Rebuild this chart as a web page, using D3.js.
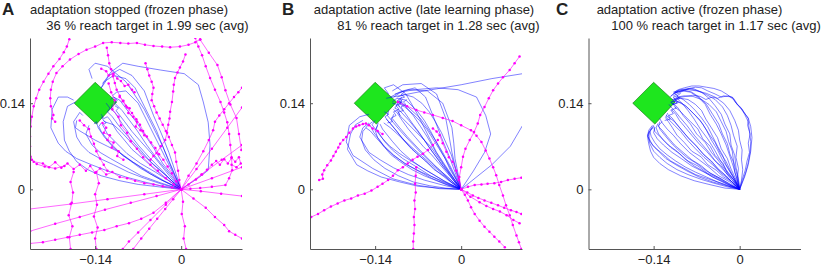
<!DOCTYPE html>
<html>
<head>
<meta charset="utf-8">
<script src="https://cdn.jsdelivr.net/npm/d3@7"></script>
<style>
  body { margin: 0; background: #fff; }
  svg text { font-family: "Liberation Sans", Arial, sans-serif; fill: #222; }
</style>
</head>
<body>
<div id="chart"></div>
<script>
// DATA (hand position in mm, start at 0,0)
const xTicks = [-140, 0];
const yTicks = [0, 140];
const panelLetters = ["A", "B", "C"];
const titles = ["adaptation stopped (frozen phase)", "adaptation active (late learning phase)", "adaptation active (frozen phase)"];
const subtitles = ["36 % reach target in 1.99 sec (avg)", "81 % reach target in 1.28 sec (avg)", "100 % reach target in 1.17 sec (avg)"];
const target = [[-140, 174], [-105, 142], [-138, 106], [-174, 140]];

// panel A: reaching (blue) and wandering (magenta) trajectories
const reachA = [
  [[0,0],[-20,14],[-40,30],[-58,46],[-80,65],[-94,82],[-105,95],[-115,112],[-120,118],[-126,115],[-130,122]],
  [[0,0],[-18,16],[-35,35],[-52,52],[-70,72],[-84,90],[-95,105],[-108,125],[-114,130],[-112,138]],
  [[0,0],[-14,22],[-30,42],[-44,66],[-60,90],[-72,108],[-85,125],[-100,145],[-110,150],[-115,146]],
  [[0,0],[-26,12],[-50,25],[-72,40],[-95,55],[-112,70],[-125,85],[-135,100],[-138,110],[-142,106]],
  [[0,0],[-30,8],[-60,18],[-86,28],[-110,40],[-132,50],[-150,60],[-162,72],[-170,85],[-175,110],[-165,125],[-160,120]],
  [[0,0],[-12,24],[-25,50],[-38,76],[-50,100],[-60,120],[-70,140],[-90,160],[-105,158],[-112,152]],
  [[0,0],[-36,4],[-70,8],[-100,14],[-130,22],[-152,32],[-170,45],[-182,62],[-190,80],[-192,110],[-185,135],[-172,142]],
  [[0,0],[-22,20],[-45,40],[-66,60],[-85,80],[-98,94],[-110,105],[-125,110],[-130,118]],
  [[0,0],[-18,24],[-38,48],[-56,72],[-72,96],[-84,112],[-96,128],[-108,140],[-104,145],[-110,150]],
  [[0,0],[30,20],[44,31],[47,72],[44,109],[36,142],[28,170],[5,188],[-34,194],[-70,200],[-95,205],[-115,190],[-125,172],[-130,165]],
  [[0,0],[-28,14],[-55,30],[-78,44],[-100,60],[-120,70],[-140,80],[-165,95],[-172,100],[-170,112]],
  [[0,0],[-10,22],[-20,45],[-30,70],[-40,95],[-50,115],[-60,135],[-75,165],[-90,180],[-110,185],[-125,175],[-130,165]],
  [[0,0],[-20,14],[-42,28],[-66,42],[-88,58],[-104,74],[-120,90],[-128,105],[-122,108],[-126,112]],
  [[0,0],[-30,5],[-60,12],[-90,20],[-120,30],[-146,40],[-170,50],[-188,62],[-200,75],[-212,100],[-210,130],[-200,150],[-185,150],[-175,145]],
  [[0,0],[-16,18],[-32,38],[-48,58],[-66,78],[-80,94],[-92,110],[-106,128],[-102,132],[-108,136]],
  [[0,0],[-10,30],[-20,60],[-32,90],[-45,120],[-60,160],[-80,185],[-100,195],[-118,185],[-128,172]],
  [[0,0],[-24,22],[-50,45],[-70,68],[-90,90],[-102,104],[-112,118],[-120,126],[-116,132],[-122,140]],
  [[0,0],[-32,10],[-65,22],[-90,36],[-115,50],[-132,60],[-145,72],[-155,90],[-150,104]],
  [[0,0],[-15,35],[-30,70],[-45,100],[-60,130],[-90,175],[-120,200],[-140,205],[-150,195],[-145,180]],
  [[0,0],[-34,16],[-66,34],[-96,56],[-118,78],[-130,94],[-134,102],[-130,108]]
];
const wanderA = [
  [[-190,38],[-205,34],[-222,37],[-235,41],[-243,48],[-245,53],[-246,70],[-246,86],[-245,102],[-243,118],[-240,135],[-236,148],[-231,162],[-224,175],[-216,188],[-208,200],[-198,212],[-191,223],[-186,232],[-182,244]],
  [[-205,110],[-210,115],[-208,121],[-212,135],[-213,148],[-212,162],[-209,175],[-203,189],[-193,200],[-181,211],[-167,220],[-154,227],[-140,232],[-127,238],[-113,239],[-99,238],[-86,237],[-72,238],[-59,235],[-45,233],[-31,232],[-18,231],[-2,232],[12,235],[23,239],[31,244]],
  [[-121,230],[-119,218],[-117,205],[-114,195],[-111,184],[-108,173],[-105,162],[-100,152],[-95,143],[-88,133],[-80,124],[-73,114],[-67,105],[-62,95],[-56,86],[-49,76],[-42,67],[-36,57],[-29,48],[-22,37],[-15,26],[-8,13],[0,0]],
  [[7,219],[3,208],[-2,198],[-6,190],[-10,181],[-12,170],[-13,159],[-15,142],[-18,126],[-19,115],[-21,105],[-23,92],[-26,80],[-33,70],[-40,59],[-45,54],[-50,48]],
  [[23,246],[28,232],[34,218],[40,200],[47,181],[55,162],[64,142],[70,125],[75,109],[78,90],[80,72],[82,52],[83,31],[78,18],[72,7],[50,4],[31,2],[15,1],[0,0]],
  [[31,243],[45,222],[59,202],[66,182],[72,161],[80,138],[90,116],[94,90],[98,64]],
  [[0,0],[25,33],[50,66],[75,100],[99,133]],
  [[0,0],[33,24],[66,48],[99,72]],
  [[0,0],[50,18],[99,36]],
  [[0,0],[32,-3],[65,-7],[99,-11]],
  [[0,0],[20,-15],[40,-30],[55,-45],[70,-58],[78,-68],[88,-74],[99,-80]],
  [[0,0],[3,-20],[1,-40],[6,-60],[4,-80],[8,-97]],
  [[0,0],[-40,-11],[-82,-22],[-124,-33],[-165,-45],[-205,-56],[-246,-68]],
  [[0,0],[-60,-8],[-120,-16],[-180,-24],[-246,-32]],
  [[0,0],[-25,-25],[-50,-50],[-70,-70],[-85,-85],[-95,-97]],
  [[-180,-97],[-182,-78],[-177,-60],[-183,-42],[-178,-22],[-176,-5],[-180,12],[-175,28]],
  [[-138,-97],[-140,-80],[-136,-62],[-142,-44],[-137,-25],[-140,-8],[-134,10],[-138,28]],
  [[-240,45],[-225,42],[-215,36],[-205,44],[-195,35],[-185,42],[-175,33],[-165,40],[-155,30],[-148,38],[-140,27],[-132,34],[-122,24],[-112,28],[-100,20],[-88,18],[-75,14],[-60,10],[-45,8],[-30,5],[-15,3],[0,0]],
  [[0,0],[12,8],[24,16],[34,24],[42,32],[50,40],[57,46],[63,40],[70,49],[76,42],[82,51],[88,45],[94,52],[97,42],[90,36],[82,40]],
  [[-118,172],[-114,158],[-108,145],[-112,130],[-102,118],[-98,104],[-88,92],[-82,78],[-72,66],[-62,52],[-50,40],[-38,30],[-25,18],[-12,8],[0,0]],
  [[-165,112],[-158,104],[-150,98],[-147,86],[-142,74],[-138,62],[-132,50],[-126,40],[-120,30]],
  [[-58,205],[-55,195],[-52,185],[-48,175],[-45,165],[-47,155],[-48,145],[-44,135],[-40,125],[-35,115],[-30,105],[-25,95],[-20,85],[-15,72],[-10,60],[-8,45],[-5,30],[-3,15],[0,0]],
  [[0,0],[12,22],[25,42],[36,62],[45,80],[52,96],[55,110],[62,120],[70,130],[78,140],[86,150],[93,158],[99,165]],
  [[-246,-88],[-225,-86],[-205,-82],[-185,-78],[-165,-74],[-145,-70],[-125,-66],[-105,-60],[-85,-55],[-65,-48],[-45,-38],[-25,-22],[0,0]],
  [[-78,-97],[-65,-80],[-52,-64],[-39,-48],[-26,-32],[-13,-16],[0,0]],
  [[-130,196],[-122,192],[-118,185],[-110,188],[-104,180],[-98,176],[-92,168],[-86,170],[-80,162],[-76,158]],
  [[-128,108],[-122,100],[-126,92],[-116,88],[-120,80],[-110,76],[-113,68],[-102,62],[-104,54],[-94,48]],
  [[-100,150],[-94,144],[-90,136],[-84,132],[-86,124],[-78,118],[-72,110],[-74,102],[-66,96],[-60,88]]
];

// panel B
const reachB = [
  [[0,0],[-35,1],[-73,7],[-111,17],[-144,34],[-176,55],[-187,77],[-182,104],[-165,118],[-150,122]],
  [[0,0],[-20,14],[-40,30],[-60,48],[-80,65],[-94,80],[-105,95],[-118,110],[-124,118],[-118,122],[-125,126]],
  [[0,0],[-14,20],[-30,38],[-46,60],[-60,80],[-72,96],[-85,112],[-100,128],[-108,132],[-104,138]],
  [[0,0],[-26,10],[-50,22],[-72,36],[-95,50],[-112,64],[-125,78],[-138,98],[-135,108]],
  [[0,0],[-12,24],[-25,48],[-38,72],[-50,95],[-60,112],[-72,128],[-90,145],[-105,148],[-112,142]],
  [[0,0],[-30,7],[-60,15],[-86,24],[-110,35],[-132,48],[-150,60],[-165,85],[-160,100],[-150,108]],
  [[0,0],[-10,28],[-20,55],[-32,84],[-42,110],[-58,150],[-75,165],[-95,160],[-110,150]],
  [[0,0],[-22,20],[-45,40],[-66,60],[-85,80],[-98,94],[-110,108],[-120,120],[-118,128]],
  [[0,0],[-18,22],[-35,45],[-52,68],[-68,92],[-80,108],[-92,125],[-104,138],[-112,140]],
  [[0,0],[20,30],[38,60],[48,90],[40,120],[25,150],[-5,162],[-40,165],[-75,162],[-100,158],[-115,150]],
  [[0,0],[-8,30],[-15,60],[-20,88],[-25,115],[-40,155],[-65,172],[-95,170],[-112,160]],
  [[0,0],[-28,14],[-55,30],[-78,44],[-100,58],[-116,70],[-130,85],[-145,105],[-140,112]],
  [[-122,148],[-60,160],[0,170],[50,180],[100,188]],
  [[0,0],[50,40],[80,70],[100,104]],
  [[0,0],[-36,2],[-70,5],[-100,12],[-130,20],[-152,30],[-170,40],[-185,65],[-180,90],[-172,105],[-160,112]],
  [[0,0],[-16,12],[-30,25],[-48,40],[-65,55],[-80,68],[-95,82],[-115,100],[-126,108]],
  [[0,0],[-18,16],[-38,34],[-56,52],[-75,72],[-88,86],[-100,100],[-112,115],[-110,122]],
  [[0,0],[-5,25],[-10,50],[-12,75],[-15,100],[-30,140],[-55,160],[-85,162],[-108,155]],
  [[0,0],[-24,8],[-48,18],[-70,30],[-92,42],[-110,56],[-125,70],[-142,92],[-148,104]],
  [[0,0],[-14,20],[-28,40],[-42,62],[-55,85],[-66,102],[-78,120],[-95,140],[-105,145]],
  [[0,0],[-20,30],[-40,60],[-55,90],[-70,120],[-90,155],[-110,170],[-125,165],[-118,155]],
  [[0,0],[-12,14],[-22,30],[-36,50],[-50,70],[-66,86],[-80,100],[-98,118],[-104,128]],
  [[0,0],[-32,14],[-65,28],[-88,40],[-110,55],[-124,68],[-135,80],[-148,95],[-155,100]],
  [[0,0],[-22,10],[-42,22],[-62,34],[-82,48],[-98,62],[-112,78],[-128,98],[-132,106]],
  [[0,0],[-8,18],[-18,38],[-30,60],[-42,80],[-54,98],[-66,115],[-88,135],[-100,140],[-96,146]],
  [[0,0],[-14,10],[-28,22],[-44,32],[-58,46],[-72,58],[-86,72],[-98,86],[-108,98],[-116,108],[-122,114]],
  [[0,0],[-8,16],[-18,32],[-26,50],[-36,66],[-46,82],[-56,98],[-68,112],[-80,124],[-92,134],[-102,140]],
  [[0,0],[-20,6],[-40,14],[-60,22],[-80,32],[-98,44],[-114,56],[-126,70],[-136,84],[-140,96],[-136,104]],
  [[0,0],[-4,18],[-10,36],[-16,56],[-24,74],[-32,92],[-42,110],[-52,126],[-64,140],[-78,150],[-92,154],[-104,150]],
  [[0,0],[-12,14],[-24,28],[-36,42],[-48,56],[-62,70],[-74,84],[-86,98],[-96,112],[-104,124],[-110,130]],
  [[0,0],[-26,2],[-52,6],[-78,12],[-102,22],[-124,34],[-142,48],[-156,64],[-162,80],[-160,94],[-152,104],[-144,110]],
  [[-96,150],[-102,146],[-98,140],[-106,136],[-101,130],[-110,126],[-106,120],[-114,116],[-112,110],[-120,108]],
  [[-92,158],[-98,154],[-92,150],[-100,147],[-96,142],[-104,140],[-100,134]],
  [[-88,146],[-94,142],[-90,138],[-98,134],[-94,128],[-102,126],[-100,120]]
];
const wanderB = [
  [[95,216],[87,205],[79,194],[68,182],[60,172],[52,161],[45,148],[38,134],[31,121],[27,107],[21,93],[14,80],[7,66],[3,53],[0,36],[-3,20],[0,0]],
  [[-244,-45],[-233,-40],[-223,-34],[-212,-28],[-201,-23],[-190,-18],[-179,-15],[-168,-10],[-157,-7],[-146,-2],[-136,4],[-128,9],[-119,15],[-111,22],[-103,31],[-95,36],[-87,42],[-79,48],[-71,53],[-62,58],[-54,64],[-46,72],[-38,80]],
  [[-231,15],[-225,17],[-226,24],[-223,31],[-218,39],[-212,47],[-208,54],[-204,61],[-200,68],[-197,74],[-192,80],[-187,85],[-182,92],[-176,99],[-171,102],[-166,104],[-160,106],[-155,107],[-150,104],[-144,99],[-136,95],[-128,90]],
  [[-103,142],[-88,135],[-73,129],[-60,125],[-46,121],[-30,116],[-14,111],[0,104],[16,96],[25,87],[33,77],[40,63],[46,50],[52,36],[57,23],[62,7],[68,-10],[73,-26],[79,-42],[84,-58],[90,-75],[94,-86],[98,-97]],
  [[0,0],[11,4],[22,7],[33,8],[43,9],[54,10],[65,12],[76,15],[87,17],[98,19]],
  [[0,0],[10,-5],[19,-10],[28,-14],[38,-18],[49,-22],[60,-26],[70,-30],[81,-34],[90,-37],[98,-40]],
  [[0,0],[6,-9],[11,-18],[16,-29],[22,-40],[30,-51],[38,-61],[46,-69],[54,-77],[62,-85],[71,-94]],
  [[-73,36],[-74,22],[-75,9],[-74,-5],[-76,-18],[-75,-32],[-77,-45],[-76,-58],[-77,-72],[-78,-85],[-78,-97]],
  [[-46,99],[-40,94],[-35,88],[-30,75],[-24,61],[-20,52],[-14,45],[-8,30],[-4,15],[0,0]],
  [[0,0],[15,-12],[30,-21],[41,-27],[52,-32],[63,-36],[74,-42],[85,-50],[95,-55]]
];

// panel C
const reachC = [
  [[0,0],[4,15],[9,31],[12,46],[16,60],[14,75],[17,90],[13,104],[14,115],[8,124],[2,133],[-6,140],[-12,150],[-20,151],[-26,152],[-36,148],[-45,150],[-55,146],[-64,151],[-76,153],[-88,151],[-100,149],[-110,146]],
  [[0,0],[-12,12],[-26,20],[-38,31],[-52,40],[-63,53],[-78,62],[-90,76],[-102,88],[-110,101],[-116,110],[-121,117]],
  [[0,0],[-8,14],[-20,26],[-27,42],[-40,55],[-48,70],[-60,82],[-68,98],[-80,110],[-90,120],[-98,128],[-106,134]],
  [[0,0],[-18,8],[-35,18],[-52,26],[-68,38],[-84,46],[-98,58],[-112,68],[-124,80],[-132,90],[-136,100],[-133,107]],
  [[0,0],[-20,4],[-42,10],[-62,16],[-84,24],[-102,32],[-118,42],[-130,52],[-140,62],[-146,74],[-149,86],[-145,96],[-140,104]],
  [[0,0],[-6,16],[-14,33],[-20,50],[-30,66],[-36,84],[-46,100],[-55,114],[-62,128],[-72,138],[-84,146],[-96,148],[-108,146]],
  [[0,0],[-2,18],[-6,36],[-8,55],[-14,72],[-16,90],[-24,106],[-30,122],[-40,136],[-50,148],[-62,158],[-76,164],[-90,162],[-102,158],[-112,152]],
  [[0,0],[-14,14],[-30,26],[-44,40],[-58,52],[-72,66],[-85,80],[-96,94],[-106,104],[-114,112],[-120,118],[-117,124]],
  [[0,0],[-10,16],[-22,30],[-34,46],[-46,60],[-56,76],[-70,90],[-80,106],[-92,120],[-100,132],[-106,138],[-112,141]],
  [[0,0],[-20,8],[-40,18],[-58,28],[-78,38],[-95,50],[-110,60],[-124,72],[-134,82],[-140,92],[-138,101]],
  [[0,0],[-9,12],[-20,24],[-30,38],[-42,48],[-54,62],[-66,74],[-78,88],[-88,100],[-98,112],[-104,122],[-110,129]],
  [[0,0],[-3,14],[-8,28],[-10,44],[-16,58],[-20,74],[-28,90],[-34,106],[-44,122],[-54,138],[-66,150],[-78,158],[-90,161],[-104,157]],
  [[0,0],[-16,12],[-34,22],[-50,36],[-66,48],[-82,60],[-96,74],[-108,88],[-118,98],[-126,108],[-130,115]],
  [[0,0],[-11,10],[-22,22],[-34,32],[-46,46],[-58,56],[-70,70],[-82,82],[-94,96],[-104,108],[-110,116],[-116,121]],
  [[0,0],[-22,6],[-44,12],[-66,20],[-86,30],[-104,40],[-120,50],[-132,62],[-142,72],[-147,82],[-148,92],[-141,100]],
  [[0,0],[3,15],[5,32],[3,48],[4,64],[0,80],[-2,96],[-8,112],[-16,128],[-26,140],[-40,150],[-54,156],[-70,160],[-84,162],[-98,161],[-108,156]],
  [[0,0],[-5,18],[-10,36],[-16,54],[-22,72],[-30,90],[-38,106],[-48,122],[-56,138],[-68,150],[-80,158],[-94,160],[-106,157],[-113,150]],
  [[0,0],[-12,15],[-25,30],[-38,44],[-50,60],[-62,74],[-74,88],[-86,104],[-98,118],[-106,128],[-112,134],[-115,138]],
  [[0,0],[-18,10],[-36,20],[-54,30],[-70,42],[-86,52],[-100,64],[-112,76],[-122,88],[-130,98],[-132,104],[-126,110]],
  [[0,0],[-7,15],[-15,30],[-22,45],[-32,60],[-40,76],[-50,90],[-60,106],[-72,120],[-84,132],[-94,140],[-106,145]],
  [[0,0],[5,14],[10,28],[14,44],[17,60],[18,78],[16,94],[14,110],[8,122],[4,130],[-4,138],[-10,146],[-20,154],[-30,160],[-42,164],[-54,166],[-66,168],[-78,168],[-90,165],[-100,162],[-106,158]],
  [[0,0],[-12,11],[-24,23],[-36,34],[-48,47],[-60,58],[-72,72],[-84,84],[-96,98],[-106,110],[-114,116],[-120,120]],
  [[0,0],[-24,8],[-48,16],[-72,24],[-94,36],[-112,46],[-126,58],[-138,68],[-146,78],[-150,88],[-146,96],[-142,101]],
  [[0,0],[-8,16],[-18,32],[-28,48],[-36,64],[-46,80],[-54,96],[-64,112],[-76,124],[-88,136],[-100,142],[-110,143]],
  [[0,0],[-16,8],[-32,18],[-48,26],[-62,38],[-78,48],[-92,60],[-106,72],[-118,86],[-126,96],[-132,102],[-130,110]],
  [[0,0],[-2,15],[-6,30],[-10,46],[-12,62],[-18,78],[-22,94],[-30,110],[-38,126],[-50,138],[-62,146],[-76,151],[-90,152],[-102,150]],
  [[0,0],[-18,5],[-36,12],[-54,20],[-72,28],[-88,36],[-104,46],[-118,56],[-130,66],[-138,76],[-144,86],[-146,94]],
  [[0,0],[-10,16],[-22,32],[-32,48],[-42,66],[-52,82],[-64,98],[-74,114],[-84,128],[-94,140],[-100,146],[-104,150]],
  [[-98,150],[-104,146],[-100,141],[-108,138],[-103,132],[-112,129],[-108,123],[-116,120],[-113,114],[-122,112]],
  [[-96,156],[-102,152],[-98,147],[-106,146],[-102,140],[-110,138]],
  [[0,0],[-4,16],[-2,34],[-6,52],[-4,70],[-10,88],[-14,104],[-20,120],[-28,134],[-40,146],[-54,154],[-68,160],[-82,164],[-96,162],[-108,158]],
  [[0,0],[-14,6],[-30,14],[-44,20],[-60,30],[-74,38],[-90,50],[-102,62],[-116,72],[-128,84],[-138,94],[-140,103]],
  [[0,0],[8,20],[14,40],[18,62],[20,84],[18,102],[14,116],[6,126],[-2,136],[-10,148],[-18,152],[-30,150],[-40,155],[-52,160],[-62,165],[-72,166],[-82,164],[-92,160],[-100,156],[-108,152]],
  [[0,0],[-6,12],[-14,26],[-22,40],[-28,56],[-36,70],[-44,86],[-52,102],[-62,116],[-72,128],[-82,138],[-92,146],[-100,150]],
  [[0,0],[-24,2],[-50,8],[-74,14],[-96,22],[-116,32],[-130,42],[-140,52],[-145,62],[-148,74],[-150,86],[-148,96],[-142,104]],
  [[-100,160],[-106,156],[-101,152],[-108,150],[-104,145],[-112,142],[-107,137]]
];

const width = 827, height = 269;
const panelLeft = [30, 310, 588.5];
const plotTop = 38, plotW = 212, plotH = 211;
const titleX = [129, 424, 689.5];
const subtitleX = [147.5, 438.5, 716];
const letterX = [2, 282, 556];

const svg = d3.select("#chart").append("svg")
  .attr("width", width)
  .attr("height", height);

const x = d3.scaleLinear().domain([-246, 99]).range([0, plotW]);
const y = d3.scaleLinear().domain([-97, 246]).range([plotH, 0]);
const line = d3.line().x(d => x(d[0])).y(d => y(d[1]));
const fmt = d => d === 0 ? "0" : d3.format(".2f")(d / 1000);

svg.append("defs").append("clipPath")
  .attr("id", "plot-clip")
  .append("rect")
  .attr("width", plotW)
  .attr("height", plotH);

const panels = [
  { reach: reachA, wander: wanderA },
  { reach: reachB, wander: wanderB },
  { reach: reachC, wander: [] }
];

panels.forEach((p, i) => {
  const g = svg.append("g").attr("transform", `translate(${panelLeft[i]}, ${plotTop})`);
  const plot = g.append("g").attr("clip-path", "url(#plot-clip)");

  // target
  plot.append("path")
    .attr("d", line(target) + "Z")
    .attr("fill", "#1ee61e")
    .attr("stroke", "#0a6e0a")
    .attr("stroke-width", 0.6);

  // reaching trajectories
  plot.selectAll(".reach")
    .data(p.reach)
    .enter().append("path")
    .attr("class", "reach")
    .attr("d", line)
    .attr("fill", "none")
    .attr("stroke", "#0000ff")
    .attr("stroke-width", 0.7)
    .attr("stroke-opacity", 0.7);

  // wandering trajectories with sample markers
  const w = plot.selectAll(".wander")
    .data(p.wander)
    .enter().append("g")
    .attr("class", "wander");

  w.append("path")
    .attr("d", line)
    .attr("fill", "none")
    .attr("stroke", "#ff00ff")
    .attr("stroke-width", 0.6);

  w.selectAll("circle")
    .data(d => d)
    .enter().append("circle")
    .attr("cx", d => x(d[0]))
    .attr("cy", d => y(d[1]))
    .attr("r", 1.25)
    .attr("fill", "#ff00ff");

  // axes
  const xAxis = g.append("g")
    .attr("transform", `translate(0, ${plotH})`)
    .call(d3.axisBottom(x).tickValues(xTicks).tickFormat(fmt).tickSizeInner(-3).tickSizeOuter(0).tickPadding(6));
  const yAxis = g.append("g")
    .call(d3.axisLeft(y).tickValues(yTicks).tickFormat(fmt).tickSizeInner(-3).tickSizeOuter(0).tickPadding(5));

  [xAxis, yAxis].forEach(a => {
    a.select(".domain").attr("stroke", "#555");
    a.selectAll(".tick line").attr("stroke", "#555");
    a.selectAll("text").attr("font-size", 13).attr("fill", "#222")
      .attr("font-family", "'Liberation Sans', Arial, sans-serif");
  });

  // titles
  svg.append("text")
    .attr("x", letterX[i])
    .attr("y", 15)
    .attr("font-size", 17)
    .attr("font-weight", "bold")
    .text(panelLetters[i]);

  svg.append("text")
    .attr("x", titleX[i])
    .attr("y", 14)
    .attr("text-anchor", "middle")
    .attr("font-size", 13)
    .text(titles[i]);

  svg.append("text")
    .attr("x", subtitleX[i])
    .attr("y", 30)
    .attr("text-anchor", "middle")
    .attr("font-size", 13)
    .text(subtitles[i]);
});
</script>
</body>
</html>
